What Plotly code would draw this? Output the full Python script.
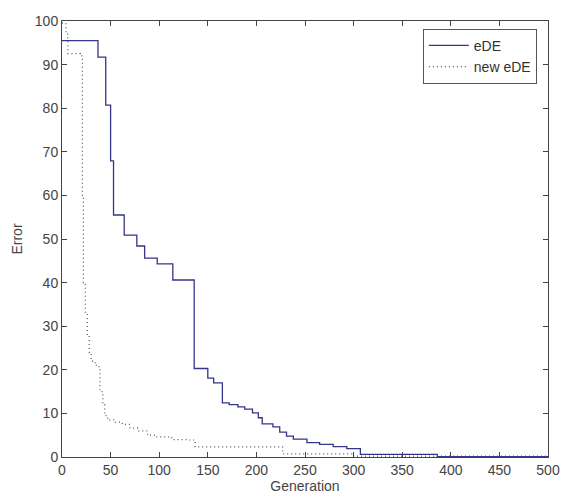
import plotly.graph_objects as go

# eDE (solid) step data: generation -> error
ede_gen = [0, 37, 45, 50, 53, 64, 77, 85, 98, 114, 136, 150, 156, 165, 172, 181, 188, 196,
           202, 206, 217, 224, 231, 238, 252, 265, 279, 293, 307, 386, 500]
ede_err = [95.5, 91.7, 80.7, 67.9, 55.5, 50.9, 48.4, 45.6, 44.3, 40.6, 20.3, 18.1, 17.0, 12.4,
           12.0, 11.5, 11.0, 10.1, 9.0, 7.6, 6.9, 5.7, 4.8, 4.1, 3.3, 2.9, 2.4, 1.9, 0.6, 0.1, 0.1]

# new eDE (dotted)
new_gen = [0, 4, 6, 19, 21, 22, 24, 26, 28, 30, 34, 38, 39, 42, 44, 47, 55, 62, 70, 78, 88,
           96, 113, 130, 137, 227, 300, 500]
new_err = [99.5, 97, 92.5, 92, 60, 40, 33, 28, 24, 22, 21, 20.5, 15, 12, 9.5, 8.5, 8, 7.5,
           6.6, 6, 5, 4.6, 4, 3.9, 2.3, 0.7, 0.2, 0.2]

x_ticks = list(range(0, 501, 50))
y_ticks = list(range(0, 101, 10))

FONT = "Liberation Sans, Arial"

fig = go.Figure()
fig.add_trace(go.Scatter(x=ede_gen, y=ede_err, mode="lines", name="eDE",
                         line=dict(color="#34348a", width=1.3, shape="hv")))
fig.add_trace(go.Scatter(x=new_gen, y=new_err, mode="lines", name="new eDE",
                         line=dict(color="#555555", width=1.2, dash="1px,3px", shape="hv")))

axis_common = dict(showline=True, linecolor="#444444", linewidth=1, mirror="ticks",
                   ticks="inside", ticklen=5, tickcolor="#444444", showgrid=False,
                   zeroline=False, automargin=False,
                   tickfont=dict(family=FONT, size=14, color="#444444"))

fig.update_layout(
    width=561, height=500,
    margin=dict(l=62, r=13, t=21, b=43),
    paper_bgcolor="white", plot_bgcolor="white",
    xaxis=dict(range=[0, 500], tickvals=x_ticks, **axis_common,
               title=dict(text="Generation", standoff=4,
                          font=dict(family=FONT, size=14, color="#444444"))),
    yaxis=dict(range=[0, 100], tickvals=y_ticks, **axis_common,
               title=dict(text="Error", standoff=8,
                          font=dict(family=FONT, size=14, color="#444444"))),
    legend=dict(x=0.977, y=0.982, xanchor="right", yanchor="top",
                bgcolor="white", bordercolor="#555555", borderwidth=1,
                itemwidth=40,
                font=dict(family=FONT, size=14, color="#333333"),
                tracegroupgap=0),
    showlegend=True,
)

fig.write_html("out.html")
